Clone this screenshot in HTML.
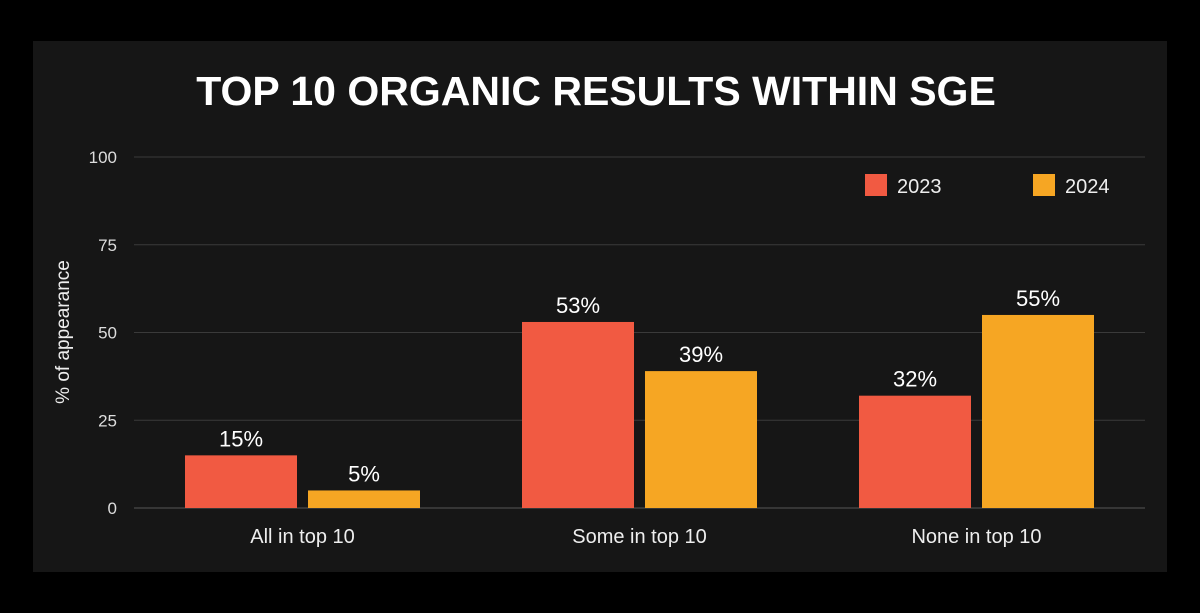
<!DOCTYPE html>
<html><head><meta charset="utf-8"><style>
body{margin:0;background:#000;width:1200px;height:613px;overflow:hidden;font-family:"Liberation Sans","DejaVu Sans",sans-serif}
#panel{position:absolute;left:33px;top:41px;width:1134px;height:531px;background:#161616}
</style></head><body>
<div id="panel"></div>
<svg id="chart" width="1200" height="613" style="position:absolute;left:0;top:0">
<text x="596" y="105" text-anchor="middle" fill="#fff" font-size="41" font-weight="bold">TOP 10 ORGANIC RESULTS WITHIN SGE</text>
<text transform="translate(69,332) rotate(-90)" text-anchor="middle" fill="#eee" font-size="19">% of appearance</text>
<g id="grid"></g><g id="bars"></g>
<rect x="865" y="174" width="22" height="22" fill="#f15a42"/>
<text x="897" y="193" fill="#eee" font-size="20">2023</text>
<rect x="1033" y="174" width="22" height="22" fill="#f6a623"/>
<text x="1065" y="193" fill="#eee" font-size="20">2024</text>
</svg>
<script>
const categories=["All in top 10","Some in top 10","None in top 10"];
const values2023=[15,53,32];
const values2024=[5,39,55];
const ticks=[0,25,50,75,100];
const NS="http://www.w3.org/2000/svg";
const x0=134,x1=1145,y0=508,y1=157;
const y=v=>y0-(v/100)*(y0-y1);
const band=(x1-x0)/categories.length;
function mk(t,a,p){const e=document.createElementNS(NS,t);for(const k in a)e.setAttribute(k,a[k]);p.appendChild(e);return e;}
const g=document.getElementById('grid'),b=document.getElementById('bars');
ticks.forEach(t=>{
 const l=mk('line',{x1:x0,x2:x1,y1:y(t),y2:y(t),stroke:t===0?'#555':'#3a3a3a','stroke-width':1},g);
 
 
 const tx=mk('text',{x:117,y:y(t)+6,'text-anchor':'end',fill:'#ddd','font-size':17},g);
 tx.textContent=t;
 
 
});
const bw=112,gap=11;
categories.forEach((c,i)=>{
 const cx=x0+band*(i+0.5);
 [[values2023,'#f15a42','2023',cx-gap/2-bw],[values2024,'#f6a623','2024',cx+gap/2]].forEach(([arr,col,s,bx])=>{
  const v=arr[i];
  const r=mk('rect',{x:bx,y:y(v),width:bw,height:y0-y(v),fill:col},b);
  
  
  const t=mk('text',{x:bx+bw/2,y:y(v)-9,'text-anchor':'middle',fill:'#fff','font-size':22},b);
  t.textContent=v+'%';
  
  
 });
 const ct=mk('text',{x:cx,y:543,'text-anchor':'middle',fill:'#eee','font-size':20},b);
 ct.textContent=c;
 
 
});
</script>
</body></html>
